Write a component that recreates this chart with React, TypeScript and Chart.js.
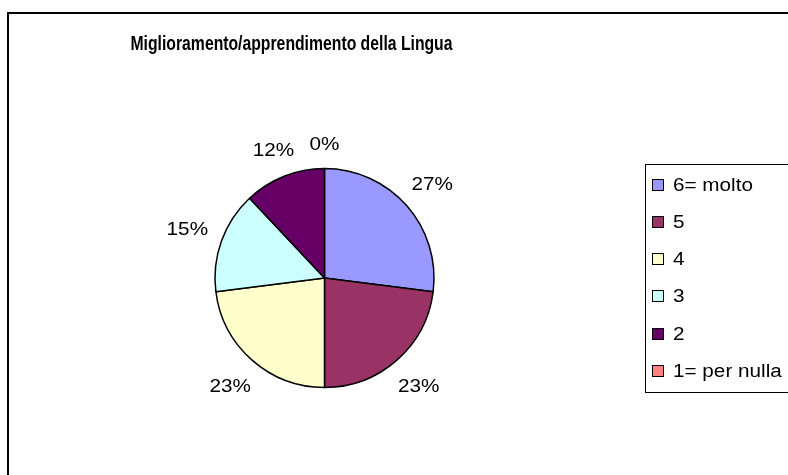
import React, { useEffect, useRef } from "react";
import { Chart, registerables } from "chart.js";

Chart.register(...registerables);

const TITLE = "Miglioramento/apprendimento della Lingua";
const categories = ["6= molto", "5", "4", "3", "2", "1= per nulla"];
const percentages = [27, 23, 23, 15, 12, 0];
const colors = ["#9999FF", "#993366", "#FFFFCC", "#CCFFFF", "#660066", "#FF8080"];

const FONT = '"Liberation Sans", Arial, sans-serif';
const W = 788;
const H = 475;

function scaledText(
  ctx: CanvasRenderingContext2D,
  text: string,
  x: number,
  baseline: number,
  font: string,
  sx: number,
  align: CanvasTextAlign
) {
  ctx.save();
  ctx.font = font;
  ctx.textAlign = align;
  ctx.textBaseline = "alphabetic";
  ctx.fillStyle = "#000";
  ctx.translate(x, baseline);
  ctx.scale(sx, 1);
  ctx.fillText(text, 0, 0);
  ctx.restore();
}

const framePlugin = {
  id: "excelFrame",
  beforeDraw(chart: any) {
    const ctx = chart.ctx as CanvasRenderingContext2D;
    ctx.save();
    ctx.fillStyle = "#fff";
    ctx.fillRect(0, 0, W, H);
    ctx.strokeStyle = "#000";
    ctx.lineWidth = 2;
    ctx.strokeRect(8, 13, W + 20, H + 20);
    ctx.restore();
  },
  afterDraw(chart: any) {
    const ctx = chart.ctx as CanvasRenderingContext2D;
    // title
    const titleFont = `bold 21px ${FONT}`;
    ctx.save();
    ctx.font = titleFont;
    const tw = ctx.measureText(TITLE).width;
    ctx.restore();
    scaledText(ctx, TITLE, 291.5, 50, titleFont, 322 / tw, "center");

    // percentage labels (outside end)
    const meta = chart.getDatasetMeta(0);
    const values = chart.data.datasets[0].data as number[];
    const labelFont = `19px ${FONT}`;
    meta.data.forEach((arc: any, i: number) => {
      const p = arc.getProps(["x", "y", "startAngle", "endAngle", "outerRadius"], true);
      const mid = (p.startAngle + p.endAngle) / 2;
      const ux = Math.cos(mid);
      const uy = Math.sin(mid);
      const d = p.outerRadius + 25 + 12 * Math.abs(ux);
      const lx = p.x + ux * d;
      const ly = p.y + uy * d;
      scaledText(ctx, `${values[i]}%`, lx, ly + 6.8, labelFont, 1.09, "center");
    });

    // legend
    const legLeft = 645;
    const legTop = 164;
    const legBottom = 392;
    ctx.save();
    ctx.strokeStyle = "#000";
    ctx.lineWidth = 1;
    ctx.strokeRect(legLeft + 0.5, legTop + 0.5, W + 20 - legLeft, legBottom - legTop);
    ctx.restore();
    const legFont = `18px ${FONT}`;
    const bg = chart.data.datasets[0].backgroundColor as string[];
    (chart.data.labels as string[]).forEach((lab: string, i: number) => {
      const cy = 184 + i * 37.3;
      const top = Math.round(cy - 5.5);
      ctx.save();
      ctx.fillStyle = bg[i];
      ctx.fillRect(652, top, 12, 12);
      ctx.strokeStyle = "#000";
      ctx.lineWidth = 1;
      ctx.strokeRect(652.5, top + 0.5, 11, 11);
      ctx.restore();
      scaledText(ctx, lab, 673, cy + 6.5, legFont, 1.15, "left");
    });
  },
};

export default function App() {
  const ref = useRef<HTMLCanvasElement | null>(null);
  useEffect(() => {
    if (!ref.current) return;
    const chart = new Chart(ref.current, {
      type: "pie",
      data: {
        labels: categories,
        datasets: [
          {
            data: percentages,
            backgroundColor: colors,
            borderColor: "#000",
            borderWidth: 1.5,
          },
        ],
      },
      options: {
        responsive: false,
        devicePixelRatio: 1,
        animation: false,
        layout: {
          padding: { left: 214.25, right: 353.25, top: 167.75, bottom: 86.75 },
        },
        plugins: {
          legend: { display: false },
          title: { display: false },
          tooltip: { enabled: false },
        },
      },
      plugins: [framePlugin],
    });
    return () => chart.destroy();
  }, []);
  return (
    <div style={{ position: "absolute", left: 0, top: 0, width: W, height: H, overflow: "hidden" }}>
      <canvas ref={ref} width={W} height={H} style={{ display: "block", width: W, height: H }} />
    </div>
  );
}
